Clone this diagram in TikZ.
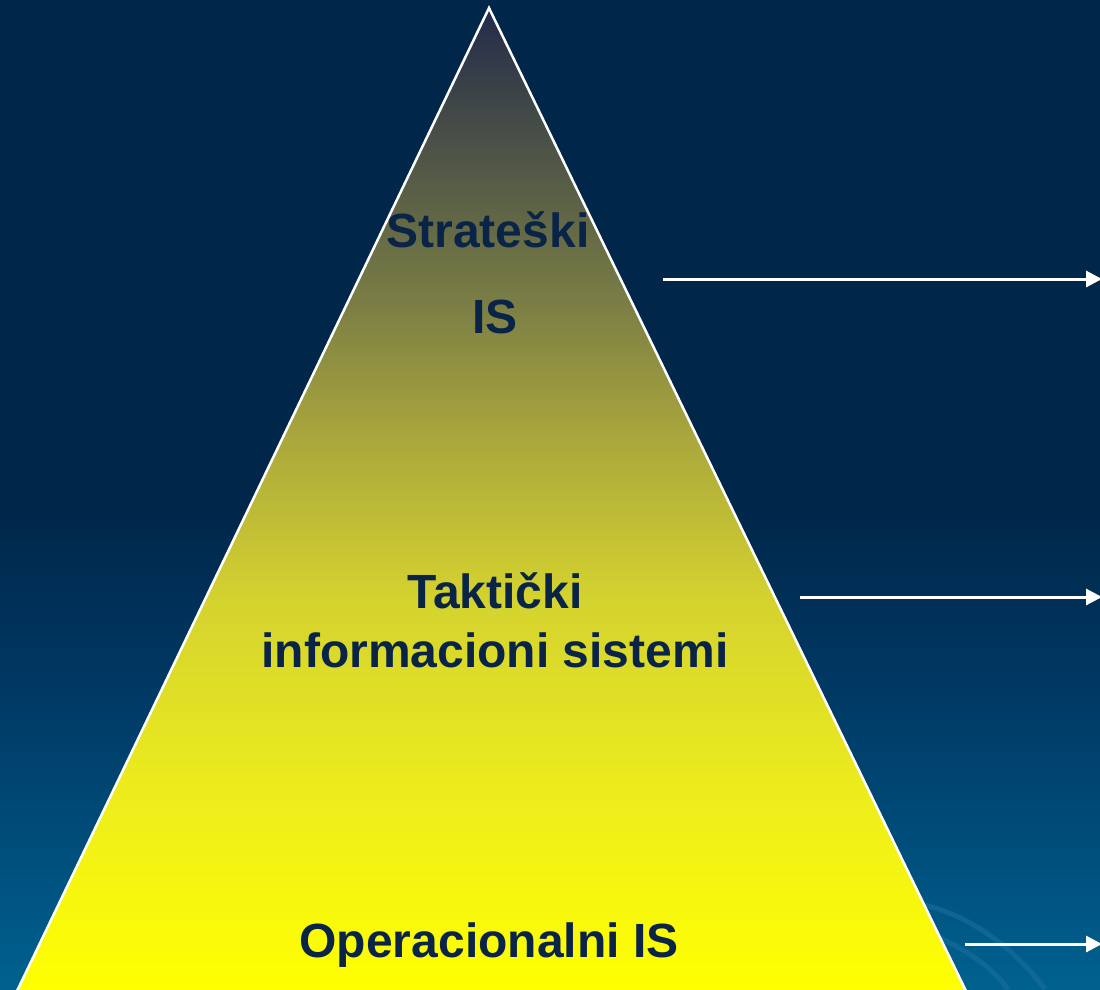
\documentclass[tikz,border=0pt]{standalone}
\usepackage{fontspec}
\setmainfont{Liberation Sans}
\usetikzlibrary{arrows.meta}
\definecolor{bgtop}{HTML}{00264A}
\definecolor{bgmid}{HTML}{003A66}
\definecolor{bgbot}{HTML}{00618F}
\definecolor{swoosh}{HTML}{1A6E9E}
\definecolor{txt}{HTML}{0A2448}
\definecolor{ta}{HTML}{FFFF00}
\definecolor{tb}{HTML}{EEEE1C}
\definecolor{tc}{HTML}{D4D22F}
\definecolor{td}{HTML}{A8A53D}
\definecolor{te}{HTML}{7A7E45}
\definecolor{tf}{HTML}{3D4447}
\definecolor{tg}{HTML}{232B4B}
\pgfdeclareverticalshading{bgshade}{100bp}{color(0bp)=(bgbot); color(25bp)=(bgbot); color(39.5bp)=(bgmid); color(49.5bp)=(bgtop); color(100bp)=(bgtop)}
\pgfdeclareverticalshading{trishade}{100bp}{color(0bp)=(ta); color(25bp)=(ta); color(34.5bp)=(tb); color(45bp)=(tc); color(53.5bp)=(td); color(60bp)=(te); color(70.5bp)=(tf); color(75bp)=(tg); color(100bp)=(tg)}
\tikzset{
  lbl/.style={text=txt, font=\bfseries\fontsize{48}{54}\selectfont, inner sep=0pt, anchor=base},
  arr/.style={white, line width=3pt, -{Triangle[length=16pt,width=16pt]}},
}
\begin{document}
\begin{tikzpicture}[x=1pt,y=-1pt]
\useasboundingbox (0,0) rectangle (1100,989);
\shade[shading=bgshade] (0,0) rectangle (1100,989);
% faint swooshes
\draw[swoosh, line width=5pt, opacity=0.6] (925,905) .. controls (975,918) and (1015,950) .. (1045,989);
\draw[swoosh, line width=5pt, opacity=0.6] (925,932) .. controls (960,945) and (990,965) .. (1008,989);
% pyramid
\coordinate (apex) at (489,8);
\coordinate (bl) at (17,991);
\coordinate (br) at (966,991);
\shade[shading=trishade] (apex) -- (bl) -- (br) -- cycle;
\draw[white, line width=2.5pt, line join=miter] (bl) -- (apex) -- (br);
% labels
\node[lbl] (s1) at (488,247) {Strateški};
\node[lbl] (s2) at (495,333) {IS};
\node[lbl] (t1) at (495,608) {Taktički};
\node[lbl] (t2) at (495,667) {informacioni sistemi};
\node[lbl] (o1) at (489,957) {Operacionalni IS};
% arrows
\coordinate (a1s) at (663,279);
\coordinate (a1e) at (1102,279);
\coordinate (a2s) at (800,597);
\coordinate (a2e) at (1102,597);
\coordinate (a3s) at (965,944);
\coordinate (a3e) at (1102,944);
\draw[arr] (a1s) -- (a1e);
\draw[arr] (a2s) -- (a2e);
\draw[arr] (a3s) -- (a3e);
\end{tikzpicture}
\end{document}
